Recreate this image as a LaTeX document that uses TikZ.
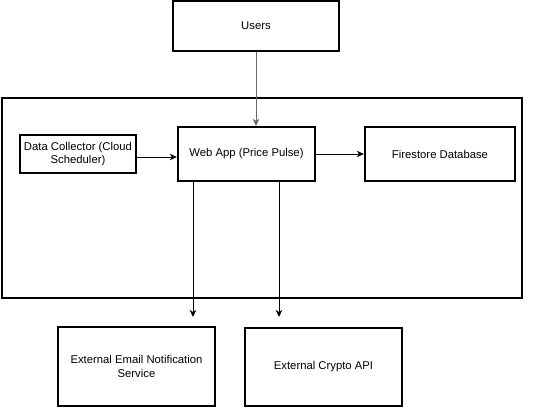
\documentclass[tikz,border=0pt]{standalone}
\usepackage{fontspec}
\setmainfont{Liberation Sans}
\usetikzlibrary{arrows.meta}
\begin{document}
\begin{tikzpicture}[x=1pt,y=-1pt,
  box/.style={draw=black,line width=2.3pt,inner sep=0pt,font=\fontsize{11.3}{13.5}\selectfont,align=center},
  conn/.style={line width=1pt,-{Stealth[length=7pt,width=6.5pt,inset=2pt]}}]
\useasboundingbox (0,0) rectangle (546,407);
\node[draw=black,line width=2.3pt,minimum width=520pt,minimum height=200pt,anchor=north west] (sys) at (1,97) {};
\node[box,minimum width=166pt,minimum height=50pt] (users) at (256,26) {Users};
\node[box,minimum width=116pt,minimum height=38pt] (dc) at (78,154) {Data Collector (Cloud\\Scheduler)};
\node[box,minimum width=137pt,minimum height=54pt] (web) at (246.5,154) {Web App (Price Pulse)};
\node[box,minimum width=150pt,minimum height=54pt] (fs) at (440,154) {Firestore Database};
\node[box,minimum width=157pt,minimum height=79pt] (email) at (136.5,366.5) {External Email Notification\\Service};
\node[box,minimum width=157pt,minimum height=78pt] (crypto) at (323.5,367) {External Crypto API};
\coordinate (e1) at (193,317);
\coordinate (e2) at (279,317);
\draw[conn,draw=black!60,fill=black!60] (users.south) -- (web.north -| users.south);
\draw[conn] (dc.east |- 0,157) -- (web.west |- 0,157);
\draw[conn] (web.east) -- (fs.west);
\draw[conn] (web.south -| e1) -- (e1);
\draw[conn] (web.south -| e2) -- (e2);
\end{tikzpicture}
\end{document}
